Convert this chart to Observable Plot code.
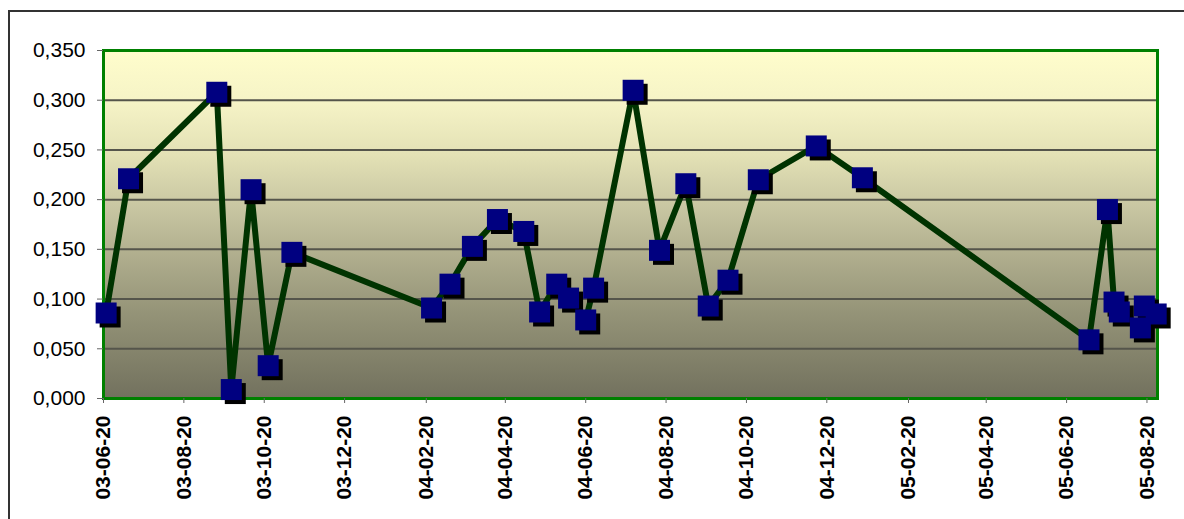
<!DOCTYPE html>
<html>
<head>
<meta charset="utf-8">
<script src="https://cdn.jsdelivr.net/npm/d3@7"></script>
<script src="https://cdn.jsdelivr.net/npm/@observablehq/plot@0.6"></script>
<style>
  html, body { margin: 0; padding: 0; background: #fff; }
  #wrap { position: relative; width: 1184px; height: 519px; overflow: hidden; }
  #outer { position: absolute; left: 8px; top: 10px; width: 1300px; height: 700px; border: 2px solid #333; box-sizing: border-box; }
  #chart { position: absolute; left: 0; top: 0; }
</style>
</head>
<body>
<div id="wrap"><div id="outer"></div><div id="chart"></div></div>
<script>
const dates = [
  "2003-06-22", "2003-07-09", "2003-09-14", "2003-09-25", "2003-10-10", "2003-10-23", "2003-11-10",
  "2004-02-24", "2004-03-09", "2004-03-26", "2004-04-14", "2004-05-04", "2004-05-16", "2004-05-29",
  "2004-06-07", "2004-06-20", "2004-06-26", "2004-07-26", "2004-08-15", "2004-09-04", "2004-09-21",
  "2004-10-06", "2004-10-29", "2004-12-12", "2005-01-16", "2005-07-07", "2005-07-21", "2005-07-26",
  "2005-07-30", "2005-08-15", "2005-08-18", "2005-08-27"
];
const values = [
  0.086, 0.221, 0.308, 0.009, 0.210, 0.033, 0.147,
  0.091, 0.115, 0.153, 0.180, 0.168, 0.087, 0.115,
  0.101, 0.079, 0.111, 0.310, 0.149, 0.216, 0.093,
  0.119, 0.220, 0.254, 0.222, 0.059, 0.190, 0.097,
  0.087, 0.071, 0.093, 0.085
];
const xTicks = [
  "2003-06-20", "2003-08-20", "2003-10-20", "2003-12-20", "2004-02-20", "2004-04-20", "2004-06-20",
  "2004-08-20", "2004-10-20", "2004-12-20", "2005-02-20", "2005-04-20", "2005-06-20", "2005-08-20"
];
const yTicks = [0, 0.05, 0.10, 0.15, 0.20, 0.25, 0.30, 0.35];
const xDomain = ["2003-06-20", "2005-08-28"];

const data = dates.map((d, i) => ({date: new Date(d + "T00:00:00Z"), value: values[i]}));
const side = 21;
const r = side / Math.sqrt(Math.PI);

const defs = () => {
  const g = d3.create("svg:defs");
  const lg = g.append("linearGradient").attr("id", "bgGrad")
    .attr("x1", 0).attr("y1", 0).attr("x2", 0).attr("y2", 1);
  [[0, "#FFFDCC"], [0.15, "#F5F3C6"], [0.3, "#E3E1B5"], [0.45, "#C8C6A2"],
   [0.6, "#AEAC8C"], [0.75, "#959478"], [0.9, "#807F68"], [1, "#72715E"]]
    .forEach(([o, c]) => lg.append("stop").attr("offset", o).attr("stop-color", c));
  return g.node();
};

const chart = Plot.plot({
  width: 1184,
  height: 519,
  marginLeft: 103,
  marginRight: 27,
  marginTop: 50,
  marginBottom: 121,
  style: {fontFamily: "'Liberation Sans', Arial, sans-serif", background: "transparent", color: "#000"},
  x: {type: "utc", domain: xDomain.map(d => new Date(d + "T00:00:00Z"))},
  y: {domain: [0, 0.35]},
  marks: [
    defs,
    Plot.frame({fill: "url(#bgGrad)", stroke: "none"}),
    Plot.gridY(yTicks.filter(v => v > 0 && v < 0.35), {stroke: "#55554b", strokeWidth: 2, strokeOpacity: 1}),
    Plot.frame({stroke: "#008000", strokeWidth: 3}),
    Plot.axisY({
      ticks: yTicks, tickSize: 6, tickPadding: 12, stroke: "#666",
      tickFormat: v => v.toFixed(3).replace(".", ","),
      fontSize: 21, label: null
    }),
    Plot.axisX({
      ticks: xTicks.map(d => new Date(d + "T00:00:00Z")), tickSize: 5, tickPadding: 12, stroke: "#666",
      tickFormat: d3.utcFormat("%y-%m-%d"), tickRotate: -90,
      fontSize: 21, fontWeight: "bold", label: null
    }),
    Plot.line(data, {x: "date", y: "value", stroke: "#003300", strokeWidth: 6, strokeLinejoin: "miter"}),
    Plot.dot(data, {x: "date", y: "value", symbol: "square", r, fill: "#000", stroke: "none", dx: 4, dy: 4}),
    Plot.dot(data, {x: "date", y: "value", symbol: "square", r, fill: "#000080", stroke: "none"})
  ]
});
document.getElementById("chart").appendChild(chart);
</script>
</body>
</html>
